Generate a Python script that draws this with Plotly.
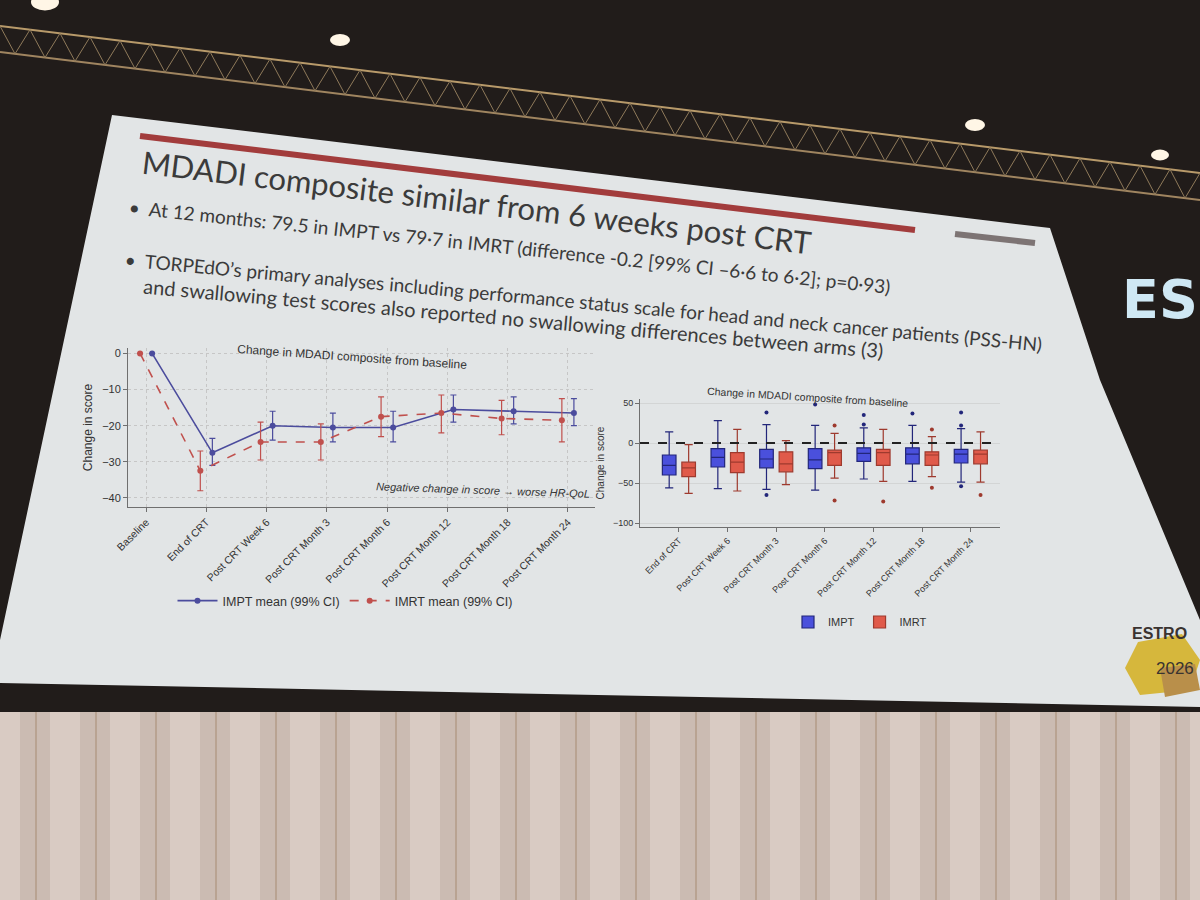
import plotly.graph_objects as go

# ---------------- data ----------------
line_categories = ["Baseline", "End of CRT", "Post CRT Week 6", "Post CRT Month 3",
                   "Post CRT Month 6", "Post CRT Month 12", "Post CRT Month 18", "Post CRT Month 24"]
impt_mean = [0, -27.5, -20.0, -20.5, -20.5, -15.5, -16.0, -16.5]
impt_lo   = [0, -31.0, -24.0, -24.5, -24.5, -19.0, -19.5, -20.0]
impt_hi   = [0, -23.5, -16.0, -16.5, -16.0, -11.5, -12.0, -12.5]
imrt_mean = [0, -32.5, -24.5, -24.5, -17.5, -16.5, -18.0, -18.5]
imrt_lo   = [0, -38.0, -29.5, -29.5, -23.0, -22.0, -22.5, -24.5]
imrt_hi   = [0, -27.0, -19.0, -19.5, -12.0, -11.5, -13.0, -12.5]

box_categories = ["End of CRT", "Post CRT Week 6", "Post CRT Month 3", "Post CRT Month 6",
                  "Post CRT Month 12", "Post CRT Month 18", "Post CRT Month 24"]
impt_lf  = [-56, -57, -58, -59, -45, -48, -49]
impt_q1  = [-40, -30, -31, -32, -23, -26, -25]
impt_med = [-28, -18, -20, -21, -13, -14, -14]
impt_q3  = [-15, -7, -8, -7, -6, -6, -8]
impt_uf  = [14, 28, 23, 22, 19, 22, 18]
imrt_lf  = [-63, -60, -52, -44, -48, -42, -49]
imrt_q1  = [-42, -37, -36, -28, -28, -28, -26]
imrt_med = [-31, -24, -26, -12, -12, -15, -14]
imrt_q3  = [-24, -12, -11, -9, -8, -11, -9]
imrt_uf  = [-2, 17, 3, 12, 17, 8, 14]
impt_out_cat = [2, 2, 3, 4, 4, 5, 6, 6, 6]
impt_out_val = [38, -65, 48, 35, 23, 37, 38, 22, -54]
imrt_out_cat = [3, 3, 4, 5, 5, 6]
imrt_out_val = [22, -72, -73, 17, -56, -65]

# ---------------- helpers ----------------
W, H = 1200, 900
def px(x):
    return x / W
def py(y):
    return 1 - y / H

BLUE_L = "#4b4c9d"
RED_L = "#c0504d"
BLUE_F = "#4a50dc"
BLUE_E = "#22267a"
RED_F = "#e05a4a"
RED_E = "#9e3a2e"
CHART_FONT = "Liberation Sans"
SLIDE_FONT = "Lato"

fig = go.Figure()

# ---- left chart: means with 99% CI ----
idx = list(range(len(line_categories)))
fig.add_trace(go.Scatter(
    x=[i + 0.1 for i in idx], y=impt_mean, mode="lines+markers",
    name="IMPT mean (99% CI)", legend="legend",
    line=dict(color=BLUE_L, width=1.6),
    marker=dict(color=BLUE_L, size=6, symbol="circle"),
    error_y=dict(type="data", array=[h - m for h, m in zip(impt_hi, impt_mean)],
                 arrayminus=[m - l for m, l in zip(impt_mean, impt_lo)],
                 color=BLUE_L, thickness=1.2, width=3),
    xaxis="x", yaxis="y"))
fig.add_trace(go.Scatter(
    x=[i - 0.1 for i in idx], y=imrt_mean, mode="lines+markers",
    name="IMRT mean (99% CI)", legend="legend",
    line=dict(color=RED_L, width=1.6, dash="dash"),
    marker=dict(color=RED_L, size=6, symbol="circle"),
    error_y=dict(type="data", array=[h - m for h, m in zip(imrt_hi, imrt_mean)],
                 arrayminus=[m - l for m, l in zip(imrt_mean, imrt_lo)],
                 color=RED_L, thickness=1.2, width=3),
    xaxis="x", yaxis="y"))

# ---- right chart: box plots ----
bidx = list(range(len(box_categories)))
fig.add_trace(go.Box(
    x=[i - 0.2 for i in bidx], q1=impt_q1, median=impt_med, q3=impt_q3,
    lowerfence=impt_lf, upperfence=impt_uf, orientation="v", width=0.28,
    whiskerwidth=0.6, fillcolor=BLUE_F, line=dict(color=BLUE_E, width=1.2),
    name="IMPT", legend="legend2", boxpoints=False, xaxis="x2", yaxis="y2"))
fig.add_trace(go.Box(
    x=[i + 0.2 for i in bidx], q1=imrt_q1, median=imrt_med, q3=imrt_q3,
    lowerfence=imrt_lf, upperfence=imrt_uf, orientation="v", width=0.28,
    whiskerwidth=0.6, fillcolor=RED_F, line=dict(color=RED_E, width=1.2),
    name="IMRT", legend="legend2", boxpoints=False, xaxis="x2", yaxis="y2"))
fig.add_trace(go.Scatter(
    x=[c - 0.2 for c in impt_out_cat], y=impt_out_val, mode="markers",
    marker=dict(color=BLUE_E, size=4), showlegend=False, xaxis="x2", yaxis="y2",
    hoverinfo="y"))
fig.add_trace(go.Scatter(
    x=[c + 0.2 for c in imrt_out_cat], y=imrt_out_val, mode="markers",
    marker=dict(color=RED_E, size=4), showlegend=False, xaxis="x2", yaxis="y2",
    hoverinfo="y"))

# ---------------- decorative scene shapes ----------------
shapes = []
# curtains
shapes.append(dict(type="rect", xref="paper", yref="paper", x0=0, x1=1, y0=0, y1=py(712),
                   fillcolor="#cbbbb2", line=dict(width=0), layer="below"))
for k in range(21):
    x0 = k * 60 - 10
    shapes.append(dict(type="rect", xref="paper", yref="paper", x0=px(x0), x1=px(x0 + 30),
                       y0=0, y1=py(712), fillcolor="rgba(236,224,216,0.45)",
                       line=dict(width=0), layer="below"))
    shapes.append(dict(type="line", xref="paper", yref="paper", x0=px(x0 + 46), x1=px(x0 + 46),
                       y0=0, y1=py(712), line=dict(color="rgba(150,118,85,0.45)", width=1.5),
                       layer="below"))
# truss
shapes.append(dict(type="line", xref="paper", yref="paper", x0=0, y0=py(26), x1=1, y1=py(173),
                   line=dict(color="#b89a6a", width=2), layer="below"))
shapes.append(dict(type="line", xref="paper", yref="paper", x0=0, y0=py(52), x1=1, y1=py(200),
                   line=dict(color="#a08560", width=2), layer="below"))
for k in range(40):
    xa = k * 30
    xb = xa + 15
    ya_top = 26 + xa * (147 / 1200)
    yb_bot = 52 + xb * (148 / 1200)
    shapes.append(dict(type="line", xref="paper", yref="paper", x0=px(xa), y0=py(ya_top),
                       x1=px(xb), y1=py(yb_bot), line=dict(color="#8f7a5a", width=1),
                       layer="below"))
    xc = xb + 15
    yc_top = 26 + xc * (147 / 1200)
    shapes.append(dict(type="line", xref="paper", yref="paper", x0=px(xb), y0=py(yb_bot),
                       x1=px(xc), y1=py(yc_top), line=dict(color="#8f7a5a", width=1),
                       layer="below"))
# stage lights
for (lx, ly, r) in [(45, 2, 14), (340, 40, 10), (975, 125, 10), (1160, 155, 9)]:
    shapes.append(dict(type="circle", xref="paper", yref="paper", x0=px(lx - r), x1=px(lx + r),
                       y0=py(ly + r * 0.6), y1=py(ly - r * 0.6), fillcolor="#fff6e6",
                       line=dict(width=0), layer="below"))
# slide screen
shapes.append(dict(type="path", xref="paper", yref="paper",
                   path=f"M {px(112)},{py(115)} L {px(1050)},{py(228)} L {px(1100)},{py(380)} "
                        f"L {px(1200)},{py(620)} L {px(1200)},{py(707)} L {px(0)},{py(683)} "
                        f"L {px(0)},{py(640)} Z",
                   fillcolor="#e2e5e6", line=dict(width=0), layer="below"))
# title bars
shapes.append(dict(type="line", xref="paper", yref="paper", x0=px(140), y0=py(136),
                   x1=px(915), y1=py(230), line=dict(color="#a23c3c", width=6), layer="below"))
shapes.append(dict(type="line", xref="paper", yref="paper", x0=px(955), y0=py(234),
                   x1=px(1035), y1=py(243), line=dict(color="#7d7474", width=6), layer="below"))
# ESTRO logo blocks
shapes.append(dict(type="path", xref="paper", yref="paper",
                   path=f"M {px(1138)},{py(642)} L {px(1182)},{py(634)} L {px(1200)},{py(660)} "
                        f"L {px(1190)},{py(690)} L {px(1140)},{py(695)} L {px(1125)},{py(668)} Z",
                   fillcolor="#d6b73c", line=dict(width=0), layer="below"))
shapes.append(dict(type="path", xref="paper", yref="paper",
                   path=f"M {px(1160)},{py(668)} L {px(1195)},{py(664)} L {px(1200)},{py(690)} "
                        f"L {px(1165)},{py(697)} Z",
                   fillcolor="#b98f4a", line=dict(width=0), layer="below"))
# reference line at zero in box chart
shapes.append(dict(type="line", xref="x2 domain", yref="y2", x0=0, x1=1, y0=0, y1=0,
                   line=dict(color="#222222", width=1.8, dash="dash"), layer="above"))

# ---------------- texts ----------------
ann = []
ann.append(dict(text="MDADI composite similar from 6 weeks post CRT", xref="paper", yref="paper",
                x=px(138), y=py(140), xanchor="left", yanchor="top", textangle=6.9,
                showarrow=False, font=dict(family=SLIDE_FONT, size=31, color="#3b3b3b")))
ann.append(dict(text="•  At 12 months: 79.5 in IMPT vs 79·7 in IMRT (difference -0.2 [99% CI –6·6 to 6·2]; p=0·93)",
                xref="paper", yref="paper", x=px(126), y=py(193), xanchor="left", yanchor="top",
                textangle=6.0, showarrow=False,
                font=dict(family=SLIDE_FONT, size=19, color="#3b3b3b")))
ann.append(dict(text="•  TORPEdO’s primary analyses including performance status scale for head and neck cancer patients (PSS-HN)",
                xref="paper", yref="paper", x=px(122), y=py(245), xanchor="left", yanchor="top",
                textangle=5.3, showarrow=False,
                font=dict(family=SLIDE_FONT, size=19, color="#3b3b3b")))
ann.append(dict(text="and swallowing test scores also reported no swallowing differences between arms (3)",
                xref="paper", yref="paper", x=px(140), y=py(272), xanchor="left", yanchor="top",
                textangle=5.0, showarrow=False,
                font=dict(family=SLIDE_FONT, size=20, color="#3b3b3b")))
# left chart texts
ann.append(dict(text="Change in MDADI composite from baseline", xref="paper", yref="paper",
                x=px(352), y=py(357), xanchor="center", yanchor="middle", textangle=4,
                showarrow=False, font=dict(family=CHART_FONT, size=12, color="#333333")))
ann.append(dict(text="<i>Negative change in score → worse HR-QoL</i>", xref="paper", yref="paper",
                x=px(592), y=py(490), xanchor="right", yanchor="middle", textangle=2,
                showarrow=False, font=dict(family=CHART_FONT, size=11, color="#333333")))
# right chart title
ann.append(dict(text="Change in MDADI composite from baseline", xref="paper", yref="paper",
                x=px(808), y=py(397), xanchor="center", yanchor="middle", textangle=3.5,
                showarrow=False, font=dict(family=CHART_FONT, size=10.5, color="#333333")))
# logo text
ann.append(dict(text="<b>ESTRO</b>", xref="paper", yref="paper", x=px(1130), y=py(633),
                xanchor="left", yanchor="middle", showarrow=False,
                font=dict(family="Liberation Sans", size=16, color="#3a3330")))
ann.append(dict(text="2026", xref="paper", yref="paper", x=px(1154), y=py(668),
                xanchor="left", yanchor="middle", showarrow=False,
                font=dict(family="Liberation Sans", size=17, color="#3a3330")))
# neon sign at right
ann.append(dict(text="<b>ES</b>", xref="paper", yref="paper", x=px(1120), y=py(300),
                xanchor="left", yanchor="middle", showarrow=False,
                font=dict(family="DejaVu Sans", size=54, color="#cfe8f4")))

axis_common = dict(showline=True, linecolor="#6f6f6f", linewidth=1, ticks="outside",
                   ticklen=4, tickcolor="#6f6f6f", zeroline=False, automargin=False)

fig.update_layout(
    width=W, height=H, template="none",
    margin=dict(l=0, r=0, t=0, b=0),
    paper_bgcolor="#211c1a", plot_bgcolor="rgba(0,0,0,0)",
    font=dict(family=CHART_FONT, color="#333333"),
    shapes=shapes, annotations=ann,
    xaxis=dict(domain=[px(128), px(595)], anchor="y", range=[-0.3, 7.45],
               tickvals=idx, ticktext=line_categories, tickangle=-45,
               tickfont=dict(size=10.5, color="#333333"),
               showgrid=True, gridcolor="#c6c6c6", griddash="dot", **axis_common),
    yaxis=dict(domain=[py(507), py(348)], anchor="x", range=[-42.5, 1.5],
               tickvals=[0, -10, -20, -30, -40], tickfont=dict(size=11, color="#333333"),
               title=dict(text="Change in score", font=dict(size=12, color="#333333"), standoff=6),
               showgrid=True, gridcolor="#c6c6c6", griddash="dot", **axis_common),
    xaxis2=dict(domain=[px(640), px(1000)], anchor="y2", range=[-0.8, 6.6],
                tickvals=bidx, ticktext=box_categories, tickangle=-45,
                tickfont=dict(size=9, color="#333333"), showgrid=False, **axis_common),
    yaxis2=dict(domain=[py(527), py(399)], anchor="x2", range=[-105, 55],
                tickvals=[50, 0, -50, -100], tickfont=dict(size=9, color="#333333"),
                title=dict(text="Change in score", font=dict(size=10, color="#333333"), standoff=6),
                showgrid=True, gridcolor="#d3d5d5", **axis_common),
    legend=dict(orientation="h", x=px(345), y=py(601), xanchor="center", yanchor="middle",
                font=dict(family=CHART_FONT, size=12.5, color="#333333"),
                bgcolor="rgba(0,0,0,0)", itemwidth=40),
    legend2=dict(orientation="h", x=px(860), y=py(622), xanchor="center", yanchor="middle",
                 font=dict(family=CHART_FONT, size=11, color="#333333"),
                 bgcolor="rgba(0,0,0,0)"),
    showlegend=True,
)

fig.write_html("out.html", config={"displayModeBar": False},
               post_script="document.body.style.margin='0';document.body.style.overflow='hidden';")
